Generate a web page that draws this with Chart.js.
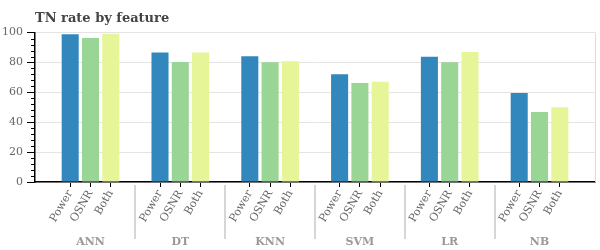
<!DOCTYPE html>
<html><head><meta charset="utf-8">
<script src="https://cdn.jsdelivr.net/npm/chart.js"></script>
<style>html,body{margin:0;padding:0;background:#fff}#wrap{width:600px;height:250px}</style>
</head><body><div id="wrap"><canvas id="c" width="600" height="250"></canvas></div>
<script>
const groups = ['ANN', 'DT', 'KNN', 'SVM', 'LR', 'NB'];
const features = ['Power', 'OSNR', 'Both'];
const powerValues = [98.9, 86.6, 84.2, 72.1, 83.9, 59.5];
const osnrValues  = [96.4, 80.3, 80.1, 66.2, 80.1, 46.8];
const bothValues  = [99.3, 86.6, 80.8, 67.1, 87.0, 50.1];
const yTickValues = [0, 20, 40, 60, 80, 100];
const MINOR_STEP = 4;

const colors = ['#3288bd', '#99d594', '#e6f598'];
const CAT_PCT = 0.678;
const BAR_PCT = 0.84;
const X_PAD = 0.618;

Chart.defaults.font.family = 'DejaVu Serif';

const seriesList = [powerValues, osnrValues, bothValues];
const datasets = seriesList.map((vals, si) => ({
  label: features[si],
  xAxisID: 'x',
  yAxisID: 'y',
  data: vals.map((v, gi) => ({ x: gi, y: v })),
  backgroundColor: colors[si],
  borderWidth: 0,
  categoryPercentage: CAT_PCT,
  barPercentage: BAR_PCT
}));

// feature tick positions = centres of the grouped bars
const featureTicks = [];
groups.forEach((g, gi) => features.forEach((f, fi) => featureTicks.push(gi + (fi - 1) * CAT_PCT / features.length)));

const decorations = {
  id: 'decorations',
  afterDraw(chart) {
    const { ctx, chartArea, scales } = chart;
    const x = scales.x, y = scales.y;
    ctx.save();
    ctx.strokeStyle = '#dddddd'; ctx.lineWidth = 1;
    ctx.beginPath();
    ctx.moveTo(chartArea.right + 0.5, chartArea.top);
    ctx.lineTo(chartArea.right + 0.5, chartArea.bottom);
    ctx.stroke();
    ctx.strokeStyle = '#000'; ctx.lineWidth = 1;
    ctx.beginPath();
    const ymin = yTickValues[0], ymax = yTickValues[yTickValues.length - 1];
    for (let v = ymin; v <= ymax; v += MINOR_STEP) {
      if (yTickValues.includes(v)) continue;
      const py = Math.round(y.getPixelForValue(v)) + 0.5;
      ctx.moveTo(chartArea.left - 4, py);
      ctx.lineTo(chartArea.left, py);
    }
    ctx.stroke();
    ctx.strokeStyle = '#d6d6d6'; ctx.lineWidth = 2;
    ctx.beginPath();
    for (let k = 0; k < groups.length - 1; k++) {
      const px = Math.round(x.getPixelForValue(k + 0.5));
      ctx.moveTo(px, chartArea.bottom + 3);
      ctx.lineTo(px, chartArea.bottom + 57);
    }
    ctx.stroke();
    ctx.restore();
  }
};

new Chart(document.getElementById('c'), {
  type: 'bar',
  data: { datasets },
  plugins: [decorations],
  options: {
    responsive: false,
    animation: false,
    devicePixelRatio: 1,
    layout: { padding: { left: 0, right: 5, top: 0, bottom: 0 } },
    plugins: {
      legend: { display: false },
      tooltip: { enabled: false },
      title: {
        display: true, text: 'TN rate by feature', align: 'start', fullSize: false,
        color: '#444', font: { size: 13, weight: 'bold' }, padding: { top: 11, bottom: 6 }
      }
    },
    scales: {
      x: {
        type: 'linear', position: 'bottom', weight: 1, offset: false,
        min: -X_PAD, max: groups.length - 1 + X_PAD,
        afterBuildTicks: s => { s.ticks = groups.map((g, i) => ({ value: i })); },
        ticks: { autoSkip: false, minRotation: 0, maxRotation: 0, color: '#999', font: { size: 11, weight: 'bold' }, padding: 7,
                 callback: (v) => groups[v] },
        grid: { display: false, drawTicks: false, offset: false },
        border: { display: false },
        afterFit: s => { s.height = 21; }
      },
      xf: {
        type: 'linear', position: 'bottom', weight: 0, offset: false,
        min: -X_PAD, max: groups.length - 1 + X_PAD,
        afterBuildTicks: s => { s.ticks = featureTicks.map(v => ({ value: v })); },
        ticks: { autoSkip: false, minRotation: 60, maxRotation: 60, color: '#666', font: { size: 11 }, padding: 1,
                 callback: (v, i) => features[i % features.length] },
        grid: { drawOnChartArea: false, drawTicks: true, tickLength: 5, tickColor: '#000', offset: false },
        border: { display: true, color: '#000', width: 1.5 },
        afterFit: s => { s.height = 47; }
      },
      y: {
        min: 0, max: 100,
        afterBuildTicks: s => { s.ticks = yTickValues.map(v => ({ value: v })); },
        ticks: { color: '#666', font: { size: 11 }, padding: 4 },
        grid: { color: '#e4e4e4', tickColor: '#000', tickLength: 8 },
        border: { display: true, color: '#000', width: 1.5 },
        afterFit: s => { s.width = 35; }
      }
    }
  }
});
</script>
</body></html>
